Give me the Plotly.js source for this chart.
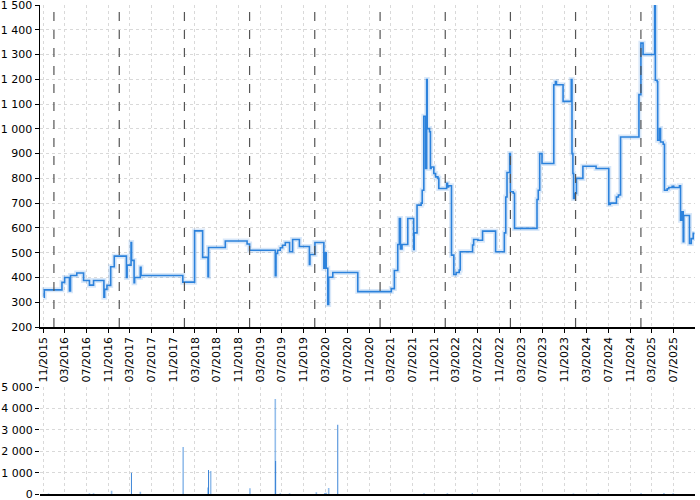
<!DOCTYPE html>
<html>
<head>
<meta charset="utf-8">
<script src="https://cdn.plot.ly/plotly-3.0.1.min.js"></script>
<style>html,body{margin:0;padding:0;background:#fff;}#chart{width:700px;height:500px;}</style>
</head>
<body>
<div id="chart"></div>
<script>
const priceDates = [
'2015-11-04','2015-11-08','2016-02-15','2016-03-01','2016-03-28','2016-04-03','2016-05-08','2016-06-15','2016-07-18','2016-08-10',
'2016-10-07','2016-10-11','2016-10-24','2016-11-14','2016-12-04','2017-02-10','2017-02-14','2017-03-08','2017-03-11','2017-03-25',
'2017-03-28','2017-04-29','2017-05-03','2017-12-23','2018-02-27','2018-04-13','2018-05-13','2018-05-16','2018-08-18','2018-12-18',
'2019-01-01','2019-05-25','2019-05-29','2019-06-07','2019-06-22','2019-07-05','2019-07-20','2019-08-13','2019-08-30','2019-10-07',
'2019-12-02','2019-12-05','2020-01-02','2020-02-21','2020-02-27','2020-03-05','2020-03-14','2020-03-19','2020-04-11','2020-08-29',
'2021-03-05','2021-03-22','2021-04-10','2021-04-19','2021-04-25','2021-05-04','2021-06-05','2021-07-08','2021-07-11','2021-07-27',
'2021-08-19','2021-08-25','2021-09-03','2021-09-13','2021-09-19','2021-09-22','2021-10-05','2021-10-10','2021-10-14','2021-10-29',
'2021-11-08','2021-11-21','2021-11-26','2022-01-09','2022-01-14','2022-01-20','2022-02-05','2022-02-18','2022-03-03','2022-03-20',
'2022-03-26','2022-06-03','2022-06-09','2022-07-03','2022-07-29','2022-10-10','2022-11-28','2022-12-06','2022-12-13','2022-12-28',
'2023-01-01','2023-01-17','2023-01-24','2023-05-30','2023-06-06','2023-06-14','2023-06-27','2023-09-01','2023-09-10','2023-09-16',
'2023-10-23','2023-12-08','2023-12-12','2023-12-17','2023-12-21','2023-12-27','2024-01-06','2024-02-11','2024-04-25','2024-07-05',
'2024-07-14','2024-08-17','2024-08-28','2024-09-09','2024-12-21','2025-01-01','2025-01-13','2025-03-19','2025-03-23','2025-04-02',
'2025-04-05','2025-04-15','2025-04-21','2025-05-06','2025-05-13','2025-05-28','2025-06-06','2025-06-25','2025-07-04','2025-08-05',
'2025-08-11','2025-08-20','2025-08-26','2025-08-29','2025-09-30','2025-10-10','2025-10-21','2025-10-28'
];
const priceValues = [
320,350,380,400,346,408,418,388,369,388,
320,352,368,443,486,400,450,541,469,379,
400,441,408,381,588,481,403,521,547,535,
510,407,497,510,520,530,541,504,553,525,
453,493,541,437,500,437,291,401,420,343,
355,428,533,638,515,533,638,513,580,692,
700,752,1051,840,1199,1001,988,840,846,820,
806,800,759,780,765,770,490,412,420,430,
504,531,553,550,587,504,580,725,824,900,
746,740,598,715,752,900,860,1178,1191,1178,
1111,1199,900,820,719,739,800,849,840,695,
700,725,733,967,1138,1346,1300,1520,1196,1190,
954,1001,947,938,752,758,763,768,763,770,
631,665,544,650,537,557,578,578
];

const volLightDates = ['2015-12-02','2016-07-18','2016-08-10','2016-11-19','2017-04-29','2017-12-25','2018-05-13','2018-05-28','2019-01-03','2019-05-25','2019-06-22','2019-08-13','2020-01-10','2020-03-05','2020-03-19','2021-09-04','2022-01-13','2023-12-20','2024-05-07','2025-01-02','2025-05-10','2025-07-01'];
const volLightValues = [20,30,30,150,100,2200,300,1080,270,4450,30,30,80,60,280,40,30,20,20,30,50,40];
const volDarkDates = ['2017-03-10','2018-05-16','2019-05-27','2020-02-27','2020-05-09','2022-06-01'];
const volDarkValues = [1000,1120,1550,50,3250,30];

const yearMarkers = ['2016-01-01','2017-01-01','2018-01-01','2019-01-01','2020-01-01','2021-01-01','2022-01-01','2023-01-01','2024-01-01','2025-01-01'];

const lineColor = 'rgb(44,130,220)';
const gridColor = '#d9d9d9';
const gridDash = '3px,3px';
const font = {family: 'DejaVu Sans, sans-serif', size: 11, color: '#000'};

const traces = [
  {x: priceDates, y: priceValues, type: 'scatter', mode: 'lines', line: {shape: 'hv', color: 'rgba(44,130,220,0.18)', width: 5}, xaxis: 'x', yaxis: 'y', hoverinfo: 'skip'},
  {x: priceDates, y: priceValues, type: 'scatter', mode: 'lines', line: {shape: 'hv', color: lineColor, width: 1.6}, xaxis: 'x', yaxis: 'y'},
  {x: volLightDates, y: volLightValues, type: 'bar', marker: {color: 'rgba(90,155,225,0.65)', line: {width: 0}}, width: 86400000 * 9, xaxis: 'x2', yaxis: 'y2'},
  {x: volDarkDates, y: volDarkValues, type: 'bar', marker: {color: 'rgb(40,120,210)', line: {width: 0}}, width: 86400000 * 5, xaxis: 'x2', yaxis: 'y2'}
];

const shapes = yearMarkers.map(d => ({
  type: 'line', xref: 'x', yref: 'y domain', x0: d, x1: d, y0: 0, y1: 1,
  line: {color: '#555', width: 1.2, dash: 'dash'}, layer: 'above'
}));

const xRange = ['2015-10-15', '2025-10-31'];

const layout = {
  width: 700, height: 500,
  margin: {l: 40, r: 5, t: 5, b: 6},
  paper_bgcolor: '#fff', plot_bgcolor: '#fff',
  showlegend: false,
  separators: '. ',
  font: font,
  barmode: 'overlay',
  xaxis: {
    type: 'date', range: xRange, anchor: 'y', domain: [0, 1],
    tick0: '2015-11-01', dtick: 'M4', tickformat: '%m/%Y', tickangle: -90,
    showgrid: true, gridcolor: gridColor, griddash: gridDash, gridwidth: 1,
    showline: true, linecolor: '#000', linewidth: 1.5,
    ticks: 'outside', ticklen: 4, tickcolor: '#000',
    tickfont: font, zeroline: false, ticklabeloverflow: 'allow'
  },
  yaxis: {
    domain: [0.3415, 1], range: [200, 1500], dtick: 100, tick0: 0,
    separatethousands: true, tickformat: ',d',
    showgrid: true, gridcolor: gridColor, griddash: gridDash, gridwidth: 1,
    showline: true, linecolor: '#000', linewidth: 1.5,
    ticks: 'outside', ticklen: 4, tickcolor: '#000',
    tickfont: font, zeroline: false, ticklabeloverflow: 'allow'
  },
  xaxis2: {
    type: 'date', range: xRange, anchor: 'y2', matches: 'x',
    tick0: '2015-11-01', dtick: 'M4', showticklabels: false,
    showgrid: true, gridcolor: gridColor, griddash: gridDash, gridwidth: 1,
    showline: true, linecolor: '#000', linewidth: 1.5, ticks: '', zeroline: false
  },
  yaxis2: {
    domain: [0, 0.2182], range: [0, 5000], dtick: 1000, tick0: 0,
    separatethousands: true, tickformat: ',d',
    showgrid: true, gridcolor: gridColor, griddash: gridDash, gridwidth: 1,
    showline: false, ticks: 'outside', ticklen: 4, tickcolor: '#000',
    tickfont: font, zeroline: false, ticklabeloverflow: 'allow'
  },
  shapes: shapes
};

Plotly.newPlot('chart', traces, layout, {displayModeBar: false, staticPlot: true});
</script>
</body>
</html>
